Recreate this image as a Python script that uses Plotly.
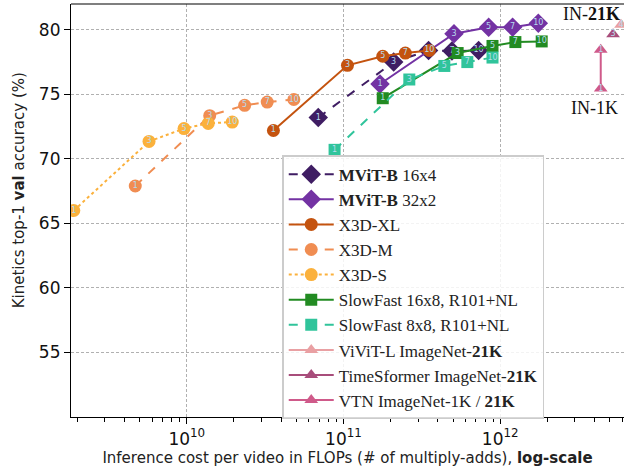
import plotly.graph_objects as go

# ---- data (FLOPs, top-1 accuracy, point labels) ----
mvit16_x = [6.9e10, 2.09e11, 3.49e11, 4.92e11, 7.28e11]
mvit16_y = [73.2, 77.5, 78.4, 78.35, 78.4]
mvit16_t = ["1", "3", "5", "7", "10"]

mvit32_x = [1.71e11, 5.07e11, 8.44e11, 1.2e12, 1.75e12]
mvit32_y = [75.8, 79.7, 80.2, 80.2, 80.5]
mvit32_t = ["1", "3", "5", "7", "10"]

x3dxl_x = [3.57e10, 1.06e11, 1.78e11, 2.48e11, 3.53e11]
x3dxl_y = [72.2, 77.25, 77.95, 78.2, 78.4]
x3dxl_t = ["1", "3", "5", "7", "10"]

x3dm_x = [4.69e9, 1.4e10, 2.34e10, 3.26e10, 4.82e10]
x3dm_y = [67.9, 73.35, 74.15, 74.4, 74.6]
x3dm_t = ["1", "3", "5", "7", "10"]

x3ds_x = [1.9e9, 5.74e9, 9.6e9, 1.37e10, 1.95e10]
x3ds_y = [66.0, 71.35, 72.35, 72.75, 72.85]
x3ds_t = ["1", "3", "5", "7", "10"]

sf16_x = [1.78e11, 5.35e11, 8.93e11, 1.25e12, 1.84e12]
sf16_y = [74.7, 78.2, 78.75, 79.05, 79.1]
sf16_t = ["1", "3", "5", "7", "10"]

sf8_x = [8.77e10, 2.63e11, 4.4e11, 6.17e11, 8.93e11]
sf8_y = [70.7, 76.15, 77.2, 77.5, 77.85]
sf8_t = ["1", "3", "5", "7", "10"]

vivit_x = [5.9e12, 1.7e13]
vivit_y = [80.4, 81.3]
vivit_t = ["4", ""]

tsf_x = [5.25e12]
tsf_y = [79.65]
tsf_t = ["3"]

vtn_x = [4.38e12, 4.38e12]
vtn_y = [75.45, 78.45]
vtn_t = ["1", "1"]

xticks = [1e10, 1e11, 1e12]
xtick_text = ["10<sup>10</sup>", "10<sup>11</sup>", "10<sup>12</sup>"]
yticks = [55, 60, 65, 70, 75, 80]

series = [
    ("<b>MViT-B</b> 16x4", mvit16_x, mvit16_y, mvit16_t, "#3f1d63", "dash", "diamond", 15),
    ("<b>MViT-B</b> 32x2", mvit32_x, mvit32_y, mvit32_t, "#7332a3", "solid", "diamond", 15),
    ("X3D-XL", x3dxl_x, x3dxl_y, x3dxl_t, "#c4530f", "solid", "circle", 13),
    ("X3D-M", x3dm_x, x3dm_y, x3dm_t, "#f08d52", "dash", "circle", 13),
    ("X3D-S", x3ds_x, x3ds_y, x3ds_t, "#fbb13c", "dot", "circle", 13),
    ("SlowFast 16x8, R101+NL", sf16_x, sf16_y, sf16_t, "#228b22", "solid", "square", 12),
    ("SlowFast 8x8, R101+NL", sf8_x, sf8_y, sf8_t, "#30c49b", "dash", "square", 12),
    ("ViViT-L ImageNet-<b>21K</b>", vivit_x, vivit_y, vivit_t, "#e9a0a3", "solid", "triangle-up", 12),
    ("TimeSformer ImageNet-<b>21K</b>", tsf_x, tsf_y, tsf_t, "#a84d7b", "solid", "triangle-up", 12),
    ("VTN ImageNet-1K / <b>21K</b>", vtn_x, vtn_y, vtn_t, "#cf5a8a", "solid", "triangle-up", 12),
]

fig = go.Figure()
for name, xs, ys, ts, col, dash, sym, sz in series:
    fig.add_trace(go.Scatter(
        x=xs, y=ys, text=ts, name=name,
        mode="lines+markers+text",
        textposition="middle center",
        textfont=dict(family="DejaVu Sans", size=8, color="#b4dcee"),
        line=dict(color=col, width=2, dash=dash),
        marker=dict(symbol=sym, size=sz, color=col),
    ))

fig.add_annotation(x=0.997, y=81.25, xref="paper", yref="y", text="IN-<b>21K</b>",
                   showarrow=False, xanchor="right", yanchor="middle",
                   font=dict(family="Liberation Serif", size=18, color="#111"))
fig.add_annotation(x=0.993, y=73.97, xref="paper", yref="y", text="IN-1K",
                   showarrow=False, xanchor="right", yanchor="middle",
                   font=dict(family="Liberation Serif", size=18, color="#111"))
fig.add_annotation(x=-0.095, y=0.55, xref="paper", yref="paper",
                   text="Kinetics top-1 <b>val</b> accuracy (%)", textangle=-90,
                   showarrow=False, xanchor="center", yanchor="middle",
                   font=dict(family="DejaVu Sans", size=15, color="#222"))

fig.update_layout(
    width=624, height=467,
    margin=dict(l=71, r=0, t=4, b=50),
    paper_bgcolor="white", plot_bgcolor="white",
    showlegend=True,
    legend=dict(x=0.382, y=0.634, xanchor="left", yanchor="top",
                bgcolor="rgba(255,255,255,0.85)", bordercolor="#cccccc", borderwidth=1.5,
                font=dict(family="Liberation Serif", size=17, color="#222"),
                itemwidth=45, tracegroupgap=0),
    font=dict(family="DejaVu Sans", color="#111"),
)
fig.update_xaxes(
    type="log", range=[9.261, 12.79], tickvals=xticks, ticktext=xtick_text,
    showline=True, linecolor="black", linewidth=1.2, mirror=False,
    ticks="outside", ticklen=6, tickcolor="black",
    tickfont=dict(family="DejaVu Sans", size=17, color="#111"),
    showgrid=True, gridcolor="#b0b0b0", griddash="3px,2px", gridwidth=0.8,
    minor=dict(ticks="outside", ticklen=3.5, tickcolor="black", showgrid=False, dtick="D1"),
    zeroline=False,
    title=dict(text="Inference cost per video in FLOPs (# of multiply-adds), <b>log-scale</b>",
               font=dict(family="DejaVu Sans", size=15, color="#222"), standoff=2),
)
fig.update_yaxes(
    range=[50, 82], tickvals=yticks,
    showline=True, linecolor="black", linewidth=1.2, mirror=False,
    ticks="outside", ticklen=6, tickcolor="black",
    tickfont=dict(family="DejaVu Sans", size=17, color="#111"),
    showgrid=True, gridcolor="#b0b0b0", griddash="3px,2px", gridwidth=0.8,
    zeroline=False,
)
# top spine
fig.add_shape(type="line", xref="paper", yref="paper", x0=0, x1=1, y0=1, y1=1,
              line=dict(color="black", width=1.2))

fig.write_html("out.html")
